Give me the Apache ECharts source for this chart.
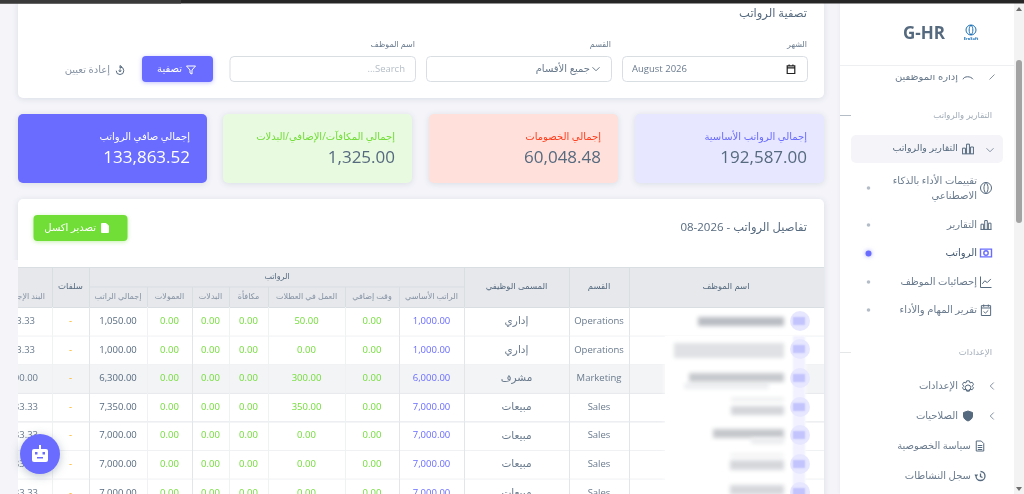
<!DOCTYPE html>
<html lang="ar" dir="rtl">
<head>
<meta charset="UTF-8">
<title>الرواتب</title>
<style>
	html, body { margin: 0; padding: 0; background: #f4f4f9; }
	#main { width: 1024px; height: 494px; }
</style>
</head>
<body>
<div id="main"></div>
<script src="https://cdn.jsdelivr.net/npm/echarts@6/dist/echarts.min.js"></script>
<script>
// table values
var departments = ['Operations', 'Operations', 'Marketing', 'Sales', 'Sales', 'Sales', 'Sales'];
var jobTitles = ['إداري', 'إداري', 'مشرف', 'مبيعات', 'مبيعات', 'مبيعات', 'مبيعات'];
var basicSalary = [1000, 1000, 6000, 7000, 7000, 7000, 7000];
var overtime = [0, 0, 0, 0, 0, 0, 0];
var holidayWork = [50, 0, 300, 350, 0, 0, 0];
var bonus = [0, 0, 0, 0, 0, 0, 0];
var allowances = [0, 0, 0, 0, 0, 0, 0];
var commissions = [0, 0, 0, 0, 0, 0, 0];
var totalSalary = [1050, 1000, 6300, 7350, 7000, 7000, 7000];
var advances = ['-', '-', '-', '-', '-', '-', '-'];
var finalItem = [83.33, 83.33, 600, 583.33, 583.33, 583.33, 583.33];

// summary cards
var cardLabels = ['إجمالي الرواتب الأساسية', 'إجمالي الخصومات', 'إجمالي المكافآت/الإضافي/البدلات', 'إجمالي صافي الرواتب'];
var cardValues = ['192,587.00', '60,048.48', '1,325.00', '133,863.52'];

// table headers
var headers = ['اسم الموظف', 'القسم', 'المسمى الوظيفي', 'الراتب الأساسي', 'وقت إضافي', 'العمل في العطلات', 'مكافأة', 'البدلات', 'العمولات', 'إجمالي الراتب', 'سلفات', 'البند الإجمالي'];

// column edges from right to left, row geometry
var colEdges = [823, 629, 569, 464, 399, 345, 268, 229, 192, 147, 89, 52, -10];
var rowTop = 307, rowH = 28.6;

var FONT = '"Open Sans", "DejaVu Sans", sans-serif';
var ICONS = {
	bars: 'M3 21V11h5v10M10 21V4h5v17M17 21V9h5v12M2 21h21',
	brain: 'M12 2a10 10 0 1 0 0 20a10 10 0 1 0 0-20M12 2c-5 5-5 15 0 20M12 2c5 5 5 15 0 20',
	money: 'M2 5h20v14H2zM12 8a4 4 0 1 0 0 8a4 4 0 1 0 0-8',
	chart: 'M3 3v18h18M6 15l4-5l4 3l6-6',
	task: 'M4 4h16v17H4zM4 8h16M8 2v4M16 2v4M8 14l3 3l5-5',
	gear: 'M12 8a4 4 0 1 0 0 8a4 4 0 1 0 0-8M10 2h4l1 3l3-1l2 3l-2 3l2 2l-2 3l-3-1l-1 3h-4l-1-3l-3 1l-2-3l2-2l-2-3l2-3l3 1z',
	shield: 'M12 2l9 3v7c0 5-4 8-9 10c-5-2-9-5-9-10V5z',
	doc: 'M5 2h10l5 5v15H5zM8 11h9M8 15h9M8 19h9',
	clock: 'M12 3a9 9 0 1 1-9 9M12 7v6l4 2M1 9l2 3l3-3',
	filter: 'M3 4h18l-7 8v8l-4-2v-6z',
	reset: 'M12 4a8 8 0 1 1-8 8M12 1v6l4-3zM12 10a2 2 0 1 0 0 4a2 2 0 1 0 0-4',
	cal: 'M4 5h16v16H4zM4 9h16M8 2v4M16 2v4',
	chevL: 'M15 5l-7 7l7 7',
	chevD: 'M5 8l7 7l7-7',
	arc: 'M3 9c2-6 14-6 18 0',
	tick: 'M8 12l6-6'
};

function rect(x, y, w, h, fill, extra) {
	var style = Object.assign({ fill: fill }, (extra && extra.style) || {});
	return { type: 'rect', z: (extra && extra.z) || 0, shape: { x: x, y: y, width: w, height: h, r: (extra && extra.r) || 0 }, style: style, silent: true };
}
function text(str, x, y, size, fill, align, extra) {
	extra = extra || {};
	return {
		type: 'text', z: extra.z || 1, silent: true,
		style: { text: str, x: x, y: y, fill: fill, align: align || 'right', verticalAlign: 'middle', font: (extra.weight || 'normal') + ' ' + size + 'px ' + FONT }
	};
}
// soft smear: the shape sits off the page and only its shadow lands on it
function smear(x, y, w, h, color, blur, z) {
	return rect(x - 2000, y, w, h, color, { z: z, style: { shadowBlur: blur, shadowColor: color, shadowOffsetX: 2000 } });
}
var icons = [];
function icon(name, cx, cy, size, color, extra) {
	extra = extra || {};
	icons.push({
		value: [cx, cy], name: name, size: size, stroke: color,
		fill: extra.fill || 'none', lineWidth: extra.lineWidth || 1
	});
}
function line(x1, y1, x2, y2, color, z) {
	return { type: 'line', z: z || 1, silent: true, shape: { x1: x1, y1: y1, x2: x2, y2: y2 }, style: { stroke: color, lineWidth: 1 } };
}

var CARD_SHADOW = { shadowBlur: 6, shadowColor: 'rgba(67,89,113,.14)', shadowOffsetY: 1 };
var g = [];

// filter panel
g.push(rect(18, 0, 806, 98, '#fff', { r: 5, style: CARD_SHADOW }));
g.push(text('تصفية الرواتب', 807, 14, 11.5, '#566a7f'));
g.push(text('الشهر', 807, 45, 8, '#697a8d'));
g.push(text('القسم', 611, 45, 8, '#697a8d'));
g.push(text('اسم الموظف', 415, 45, 8, '#697a8d'));
[[622, 185], [426, 185], [229.5, 185.5]].forEach(function (b) {
	g.push(rect(b[0] + 0.5, 56.5, b[1], 25, '#fff', { r: 4, style: { stroke: '#d9dee3', lineWidth: 1 } }));
});
g.push(text('August 2026', 632, 69, 9.5, '#697a8d', 'left'));
icon('cal', 791, 69, 9, '#222', { lineWidth: 1.2 });
g.push(text('جميع الأقسام', 590, 69, 10, '#697a8d'));
icon('chevD', 596, 69, 7, '#697a8d');
g.push(text('Search...', 405, 69, 9.5, '#b4bdc6'));
g.push(rect(142, 56, 71, 26, '#696cff', { r: 4, style: { shadowBlur: 4, shadowColor: 'rgba(105,108,255,.4)', shadowOffsetY: 1 } }));
g.push(text('تصفية', 182, 69, 10, '#fff'));
icon('filter', 191, 70, 9, '#fff');
g.push(text('إعادة تعيين', 110, 70, 10, '#8592a3'));
icon('reset', 120, 70, 9, '#566a7f');

// summary cards
var cardX = [635, 429, 223, 18];
var cardBg = ['#e7e7ff', '#ffe0db', '#e8fadf', '#696cff'];
var cardFg = ['#696cff', '#ff3e1d', '#71dd37', '#fff'];
var cardNum = ['#566a7f', '#566a7f', '#566a7f', '#fff'];
cardLabels.forEach(function (label, i) {
	g.push(rect(cardX[i], 114, 189, 69, cardBg[i], { r: 5, style: CARD_SHADOW }));
	g.push(text(label, cardX[i] + 172, 137, 10, cardFg[i]));
	g.push(text(cardValues[i], cardX[i] + 172, 158, 17, cardNum[i]));
});

// table panel
g.push(rect(18, 199, 806, 300, '#fff', { r: 5, style: CARD_SHADOW }));
g.push(text('تفاصيل الرواتب - 2026-08', 807, 228, 11.5, '#566a7f'));
g.push(rect(33.5, 215, 94, 26, '#71dd37', { r: 4, style: { shadowBlur: 4, shadowColor: 'rgba(113,221,55,.4)', shadowOffsetY: 1 } }));
g.push(text('تصدير اكسل', 96, 228, 10, '#fff'));
icon('doc', 105, 228, 9, '#fff', { fill: '#fff' });

// table header
var HEAD_BG = '#e6e8ec', GRID = '#d9dee3', ROW_GRID = '#e3e5e9', ROW_GRID_LIGHT = '#f0f1f3';
g.push(rect(18, 267, 806, 40, HEAD_BG));
g.push(line(18, 267.5, 824, 267.5, GRID));
g.push(line(18, 307.5, 824, 307.5, GRID));
g.push(line(89, 287, 464, 287, GRID));
g.push(text('الرواتب', 277, 277, 8, '#566a7f', 'center'));
headers.forEach(function (h, i) {
	var x = (colEdges[i] + colEdges[i + 1]) / 2;
	var subHeader = i >= 3 && i <= 9;
	if (i === 11) {
		g.push(text(h, 45, 297, 8, '#8592a3'));
	} else if (subHeader) {
		g.push(text(h, x, 297, 8, '#8592a3', 'center'));
	} else {
		g.push(text(h, x, 287, 8.5, '#566a7f', 'center'));
	}
});
[629, 569, 464, 89, 52].forEach(function (x) {
	g.push(line(x + 0.5, 267, x + 0.5, 307, GRID));
});
[399, 345, 268, 229, 192, 147].forEach(function (x) {
	g.push(line(x + 0.5, 287, x + 0.5, 307, GRID));
});

// blurred names on top of the table body
var COVER = 20;
g.push(rect(665, 336, 140, 170, 'rgba(255,255,255,.93)', { z: COVER, style: { shadowBlur: 5, shadowColor: '#fff' } }));
g.push(smear(793, 336, 12, 170, '#f1f1ff', 2, COVER + 1));
var blurs = [
	[698, 317, 86, 9, '#b9bcc2'], [674, 343, 110, 15, '#dfe1e4'],
	[684, 383, 85, 6, '#eceef0'], [689, 373, 95, 9, '#c6c9cd'],
	[731, 397, 53, 5, '#f0f1f2'], [731, 406, 53, 9, '#d3d5d9'],
	[713, 429, 71, 9, '#c4c7cb'], [751, 438, 33, 6, '#ebecee'],
	[730, 453, 54, 4, '#f2f3f4'], [730, 460, 54, 10, '#d5d7db'],
	[730, 485, 54, 10, '#d5d7db']
];
blurs.forEach(function (b) {
	g.push(smear(b[0], b[1], b[2], b[3], b[4], 4, COVER + 1));
});
[321, 349, 378, 407, 435, 464, 492].forEach(function (cy) {
	g.push({ type: 'circle', z: COVER + 2, silent: true, shape: { cx: 800, cy: cy, r: 10 }, style: { fill: '#e7e7ff' } });
	g.push(smear(793, cy - 4, 12, 8, '#c3c3fd', 2, COVER + 3));
});

// covers that clip the table at the panel edges
g.push(rect(0, 260, 18, 234, '#f4f4f9', { z: COVER }));

// sidebar
var SB = 40;
g.push(rect(840, 0, 184, 494, '#fff', { z: SB, style: { shadowBlur: 4, shadowColor: 'rgba(67,89,113,.08)' } }));
g.push(text('إدارة الموظفين', 958, 77, 10, '#697a8d', 'right', { z: SB }));
g.push(rect(840, 0, 174, 75, '#fff', { z: SB }));
g.push(line(840, 65.5, 1014, 65.5, '#eeeff1', SB));
g.push(text('G-HR', 924, 34, 17, '#566a7f', 'center', { z: SB, weight: 'bold' }));
icon('arc', 968, 78, 10, '#566a7f');
icon('tick', 992, 77, 5, '#8592a3');
icon('brain', 971, 30, 10, '#1b6fb5');
g.push(text('EraSoft', 971, 39, 4, '#1b6fb5', 'center', { z: SB, weight: 'bold' }));
g.push(text('التقارير والرواتب', 992, 115.5, 8.5, '#a1acb8', 'right', { z: SB }));
g.push(line(840, 115.5, 851, 115.5, '#b4bdc6', SB));
g.push(rect(851, 135, 152, 28, '#f5f5f9', { r: 5, z: SB }));
g.push(text('التقارير والرواتب', 958, 148.5, 9.5, '#566a7f', 'right', { z: SB }));
icon('bars', 968, 149, 12, '#566a7f');
icon('chevD', 990, 150, 7, '#8592a3');

var menuLines = [['تقييمات الأداء بالذكاء', 181], ['الاصطناعي', 196], ['التقارير', 225], ['إحصائيات الموظف', 282], ['تقرير المهام والأداء', 310]];
menuLines.forEach(function (m) {
	g.push(text(m[0], 977, m[1], 10, '#697a8d', 'right', { z: SB }));
});
g.push(text('الرواتب', 977, 253.5, 10, '#435971', 'right', { z: SB }));
[['brain', 188], ['bars', 225], ['chart', 282], ['task', 310]].forEach(function (m) {
	icon(m[0], 986, m[1], 11, '#566a7f');
});
icon('money', 986, 253, 11, '#696cff', { lineWidth: 1.4 });
[188, 225, 282, 310].forEach(function (y) {
	g.push({ type: 'circle', z: SB, silent: true, shape: { cx: 868.5, cy: y, r: 1.8 }, style: { fill: '#b4bdc6' } });
});
g.push({ type: 'circle', z: SB, silent: true, shape: { cx: 868.5, cy: 253.5, r: 3 }, style: { fill: '#696cff', shadowBlur: 4, shadowColor: 'rgba(105,108,255,.6)' } });

g.push(text('الإعدادات', 992, 353, 8.5, '#a1acb8', 'right', { z: SB }));
g.push(line(840, 352.5, 851, 352.5, '#e4e6e8', SB));
g.push(text('الإعدادات', 958, 386, 10, '#697a8d', 'right', { z: SB }));
icon('gear', 968, 386, 11, '#566a7f');
icon('chevL', 992, 386, 7, '#8592a3');
g.push(text('الصلاحيات', 958, 416, 10, '#697a8d', 'right', { z: SB }));
icon('shield', 968, 416, 10, '#566a7f', { fill: '#566a7f' });
icon('chevL', 992, 416, 7, '#8592a3');
g.push(text('سياسة الخصوصية', 971, 446, 10, '#697a8d', 'right', { z: SB }));
icon('doc', 980, 446, 10, '#566a7f');
g.push(text('سجل النشاطات', 971, 476, 10, '#697a8d', 'right', { z: SB }));
icon('clock', 980, 476, 10, '#566a7f', { lineWidth: 1.3 });

// scrollbar
g.push(rect(1014, 0, 10, 494, '#f3f3f3', { z: SB }));
g.push(rect(1016, 60, 6, 163, '#a3a3a3', { r: 3, z: SB }));
g.push({ type: 'polygon', z: SB, silent: true, shape: { points: [[1016, 11], [1022, 11], [1019, 7]] }, style: { fill: '#6e6e6e' } });
g.push({ type: 'polygon', z: SB, silent: true, shape: { points: [[1016, 487], [1022, 487], [1019, 491]] }, style: { fill: '#6e6e6e' } });

// browser strip along the top
g.push(rect(0, 0, 1024, 3.5, '#262626', { z: SB + 5 }));
g.push(rect(0, 0, 181, 3.5, '#3a3a3a', { z: SB + 5 }));

// chat bot button
g.push({ type: 'circle', z: SB + 5, silent: true, shape: { cx: 40, cy: 454, r: 20 }, style: { fill: '#696cff', shadowBlur: 10, shadowColor: 'rgba(67,89,113,.35)', shadowOffsetY: 2 } });
g.push(rect(39, 445, 2, 4, '#fff', { z: SB + 6 }));
g.push(rect(32, 449, 16, 13, '#fff', { r: 2, z: SB + 6 }));
g.push(rect(35, 452, 2.5, 2.5, '#696cff', { z: SB + 7 }));
g.push(rect(42.5, 452, 2.5, 2.5, '#696cff', { z: SB + 7 }));
g.push(rect(37, 457, 6, 1.5, '#696cff', { z: SB + 7 }));

// table body cells, one item per cell
var money = function (v) {
	return v.toLocaleString('en-US', { minimumFractionDigits: 2, maximumFractionDigits: 2 });
};
var columns = [
	{ col: 1, values: departments, color: '#697a8d' },
	{ col: 2, values: jobTitles, color: '#697a8d', size: 10.5 },
	{ col: 3, values: basicSalary.map(money), color: '#696cff' },
	{ col: 4, values: overtime.map(money), color: '#71dd37' },
	{ col: 5, values: holidayWork.map(money), color: '#71dd37' },
	{ col: 6, values: bonus.map(money), color: '#71dd37' },
	{ col: 7, values: allowances.map(money), color: '#71dd37' },
	{ col: 8, values: commissions.map(money), color: '#71dd37' },
	{ col: 9, values: totalSalary.map(money), color: '#566a7f' },
	{ col: 10, values: advances, color: '#ffab00' },
	{ col: 11, values: finalItem.map(money), color: '#697a8d', anchor: [35, 35, 38, 38, 38, 38, 38] }
];
var cells = [];
columns.forEach(function (c) {
	c.values.forEach(function (v, r) {
		cells.push({ value: [c.col, r], label: v, color: c.color, size: c.size, anchor: c.anchor ? c.anchor[r] : null });
	});
});

function renderRow(params, api) {
	var r = api.value(0);
	var top = api.coord([0, rowTop + r * rowH])[1];
	var bottom = api.coord([0, rowTop + (r + 1) * rowH])[1];
	var kids = [];
	if (r === 2) {
		kids.push({ type: 'rect', shape: { x: 18, y: top, width: 806, height: bottom - top }, style: { fill: '#f3f4f6' } });
	}
	var strong = r === 1 || r === 2 || r === 3 ? ROW_GRID : ROW_GRID_LIGHT;
	kids.push({ type: 'line', shape: { x1: 18, y1: bottom + 0.5, x2: 824, y2: bottom + 0.5 }, style: { stroke: strong, lineWidth: 1 } });
	[629, 569, 464, 89, 192, 399].forEach(function (x) {
		kids.push({ type: 'line', shape: { x1: x + 0.5, y1: top, x2: x + 0.5, y2: bottom }, style: { stroke: ROW_GRID, lineWidth: 1 } });
	});
	[345, 268, 229, 147, 52].forEach(function (x) {
		kids.push({ type: 'line', shape: { x1: x + 0.5, y1: top, x2: x + 0.5, y2: bottom }, style: { stroke: ROW_GRID_LIGHT, lineWidth: 1 } });
	});
	return { type: 'group', children: kids };
}

function renderCell(params, api) {
	var cell = cells[params.dataIndex];
	var c = api.value(0), r = api.value(1);
	var p = api.coord([(colEdges[c] + colEdges[c + 1]) / 2, rowTop + (r + 0.5) * rowH]);
	var x = cell.anchor === null ? p[0] : api.coord([cell.anchor, 0])[0];
	return {
		type: 'text',
		style: {
			text: cell.label, x: x, y: p[1], fill: cell.color,
			align: cell.anchor === null ? 'center' : 'right', verticalAlign: 'middle',
			font: (cell.size || 9.5) + 'px ' + FONT
		}
	};
}

function renderIcon(params, api) {
	var ic = icons[params.dataIndex];
	var p = api.coord([api.value(0), api.value(1)]);
	return {
		type: 'path',
		shape: { pathData: ICONS[ic.name], layout: 'center', x: p[0] - ic.size / 2, y: p[1] - ic.size / 2, width: ic.size, height: ic.size },
		style: { fill: ic.fill, stroke: ic.stroke, lineWidth: ic.lineWidth }
	};
}

var chart = echarts.init(document.getElementById('main'), null, { renderer: 'canvas' });
chart.setOption({
	animation: false,
	backgroundColor: '#f4f4f9',
	grid: { left: 0, right: 0, top: 0, bottom: 0 },
	xAxis: { type: 'value', min: 0, max: 1024, show: false },
	yAxis: { type: 'value', min: 0, max: 494, inverse: true, show: false },
	graphic: { elements: g },
	series: [{
		type: 'custom', z: 2, silent: true, clip: false,
		data: departments.map(function (d, i) { return [i]; }),
		encode: { x: 0, y: 0 },
		renderItem: renderRow
	}, {
		type: 'custom', z: 3, silent: true, clip: false,
		data: cells,
		renderItem: renderCell
	}, {
		type: 'custom', z: 70, silent: true, clip: false,
		data: icons,
		renderItem: renderIcon
	}]
});
</script>
</body>
</html>
